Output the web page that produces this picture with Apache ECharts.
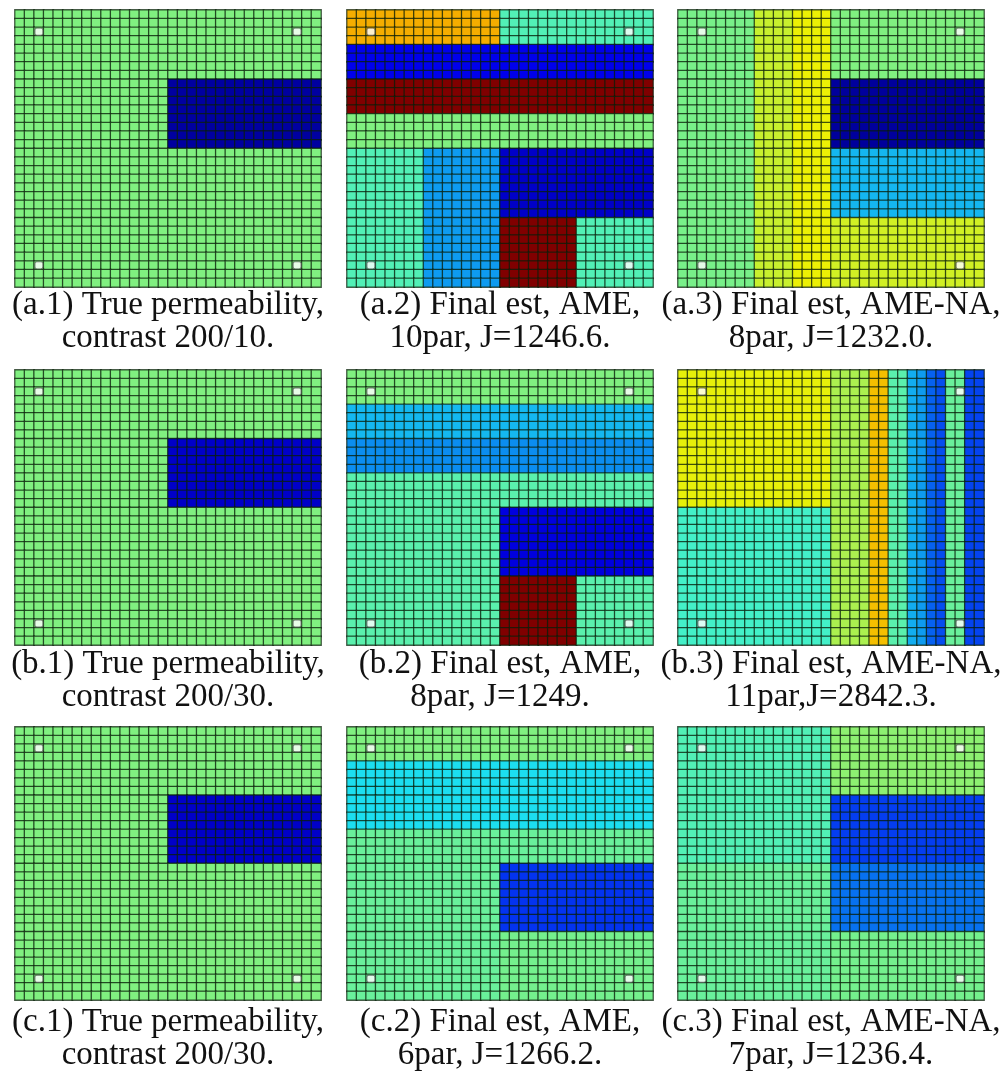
<!DOCTYPE html>
<html>
<head>
<meta charset="utf-8">
<script src="https://cdn.jsdelivr.net/npm/echarts@6/dist/echarts.min.js"></script>
<style>
  html, body { margin: 0; padding: 0; background: #ffffff; }
  #chart { width: 1003px; height: 1075px; }
</style>
</head>
<body>
<div id="chart"></div>
<script>
// 32 x 32 reservoir grid, permeability in mD
const gridSize = 32;

// Each model is a list of rectangular zones: [col0, col1, row0, row1, permeability]
// (col1/row1 exclusive, row 0 at the top). Later zones overwrite earlier ones.
const trueA1 = [[0, 32, 0, 32, 200], [16, 32, 8, 16, 10]];
const estA2 = [
  [0, 16, 0, 4, 280], [16, 32, 0, 4, 176], [0, 32, 4, 8, 48], [0, 32, 8, 12, 400],
  [0, 32, 12, 16, 200], [0, 8, 16, 32, 176], [8, 16, 16, 32, 112], [16, 32, 16, 24, 30],
  [16, 24, 24, 32, 400], [24, 32, 24, 32, 176]
];
const estA3 = [
  [0, 8, 0, 32, 196], [8, 12, 0, 32, 232], [12, 16, 0, 32, 248], [16, 32, 0, 8, 200],
  [16, 32, 8, 16, 8], [16, 32, 16, 24, 124], [16, 32, 24, 32, 236]
];
const trueB1 = [[0, 32, 0, 32, 200], [16, 32, 8, 16, 30]];
const estB2 = [
  [0, 32, 0, 4, 200], [0, 32, 4, 8, 125], [0, 32, 8, 12, 106], [0, 32, 12, 32, 180],
  [16, 32, 16, 24, 41], [16, 24, 24, 32, 400], [24, 32, 24, 32, 180]
];
const estB3 = [
  [0, 16, 0, 16, 246], [0, 16, 16, 32, 168], [16, 20, 0, 32, 219], [20, 22, 0, 32, 272],
  [22, 24, 0, 32, 180], [24, 25, 0, 32, 120], [25, 26, 0, 32, 112], [26, 27, 0, 32, 88],
  [27, 28, 0, 32, 80], [28, 30, 0, 32, 188], [30, 32, 0, 32, 76]
];
const trueC1 = [[0, 32, 0, 32, 200], [16, 32, 8, 16, 30]];
const estC2 = [
  [0, 32, 0, 4, 200], [0, 32, 4, 12, 142], [0, 16, 12, 32, 188], [16, 32, 12, 16, 188],
  [16, 32, 16, 24, 70], [16, 32, 24, 32, 194]
];
const estC3 = [
  [0, 16, 0, 16, 176], [16, 32, 0, 8, 206], [16, 32, 8, 16, 74], [16, 32, 16, 24, 94],
  [0, 16, 16, 32, 188], [16, 32, 24, 32, 194]
];

// Well locations [col, row]
const wells = [[2, 2], [29, 2], [2, 29], [29, 29]];

const captionLine1 = [
  '(a.1) True permeability,', '(a.2) Final est, AME,', '(a.3) Final est, AME-NA,',
  '(b.1) True permeability,', '(b.2) Final est, AME,', '(b.3) Final est, AME-NA,',
  '(c.1) True permeability,', '(c.2) Final est, AME,', '(c.3) Final est, AME-NA,'
];
const captionLine2 = [
  'contrast 200/10.', '10par, J=1246.6.', '8par, J=1232.0.',
  'contrast 200/30.', '8par, J=1249.', '11par,J=2842.3.',
  'contrast 200/30.', '6par, J=1266.2.', '7par, J=1236.4.'
];

const models = [trueA1, estA2, estA3, trueB1, estB2, estB3, trueC1, estC2, estC3];

// Panel placement
const colLeft = [15, 347, 678];
const panelWidth = 306;
const rowTop = [10, 370, 727];
const rowHeight = [277, 275, 273];
const captionY1 = [305, 664, 1022];
const captionY2 = [338, 697, 1055];

function expandZones(zones) {
  const field = [];
  for (let r = 0; r < gridSize; r++) field.push(new Array(gridSize).fill(0));
  zones.forEach(([c0, c1, r0, r1, v]) => {
    for (let r = r0; r < r1; r++) for (let c = c0; c < c1; c++) field[r][c] = v;
  });
  const cells = [];
  for (let r = 0; r < gridSize; r++) for (let c = 0; c < gridSize; c++) cells.push([c, r, field[r][c]]);
  return cells;
}

const cats = Array.from({ length: gridSize }, (_, i) => i);
const grids = [], xAxes = [], yAxes = [], series = [], graphics = [];
const heatIdx = [];

models.forEach((zones, i) => {
  const row = Math.floor(i / 3), col = i % 3;
  grids.push({ left: colLeft[col], top: rowTop[row], width: panelWidth, height: rowHeight[row] });
  xAxes.push({ type: 'category', data: cats, gridIndex: i, show: false });
  yAxes.push({ type: 'category', data: cats, gridIndex: i, show: false, inverse: true });
  heatIdx.push(series.length);
  series.push({
    type: 'heatmap', xAxisIndex: i, yAxisIndex: i, data: expandZones(zones),
    itemStyle: { borderColor: 'rgba(10,30,10,0.72)', borderWidth: 1.3 },
    emphasis: { disabled: true }, animation: false
  });
  series.push({
    type: 'scatter', xAxisIndex: i, yAxisIndex: i, data: wells,
    symbol: 'roundRect', symbolSize: [8, 7],
    itemStyle: { color: '#ffffff', borderColor: '#555555', borderWidth: 1 },
    animation: false, z: 5
  });
  const cx = colLeft[col] + panelWidth / 2;
  [[captionLine1[i], captionY1[row]], [captionLine2[i], captionY2[row]]].forEach(([t, y]) => {
    graphics.push({
      type: 'text', x: cx, y: y,
      style: {
        text: t, fill: '#111111', font: '33px "Liberation Serif"',
        textAlign: 'center', textVerticalAlign: 'middle'
      }
    });
  });
});

const chart = echarts.init(document.getElementById('chart'), null, { renderer: 'canvas' });
chart.setOption({
  backgroundColor: '#ffffff',
  animation: false,
  grid: grids,
  xAxis: xAxes,
  yAxis: yAxes,
  visualMap: {
    type: 'continuous', show: false, min: 0, max: 400, seriesIndex: heatIdx,
    inRange: { color: ['#00008c', '#0000f0', '#0880f0', '#20f0f0', '#80f080', '#f0f000', '#f88000', '#f00000', '#800000'] }
  },
  series: series,
  graphic: graphics
});
</script>
</body>
</html>
